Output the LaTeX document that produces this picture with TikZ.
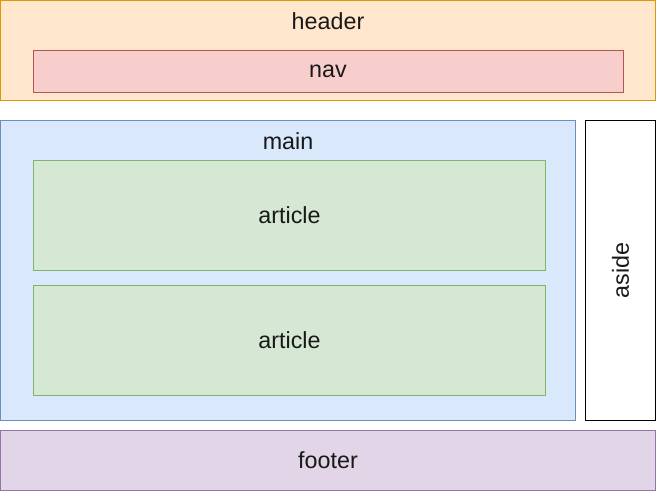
\documentclass[tikz,border=0pt]{standalone}
\usepackage{fontspec}
\setmainfont{Liberation Sans}
\definecolor{hdrfill}{HTML}{FFE6CC}
\definecolor{hdrline}{HTML}{D79B00}
\definecolor{navfill}{HTML}{F8CECC}
\definecolor{navline}{HTML}{B85450}
\definecolor{mainfill}{HTML}{DAE8FC}
\definecolor{mainline}{HTML}{6C8EBF}
\definecolor{artfill}{HTML}{D5E8D4}
\definecolor{artline}{HTML}{82B366}
\definecolor{ftfill}{HTML}{E1D5E7}
\definecolor{ftline}{HTML}{9673A6}
\tikzset{
  box/.style={line width=1pt},
  lbl/.style={inner sep=0pt, font=\fontsize{23.3}{27}\selectfont, text=black!90},
}
\begin{document}
\begin{tikzpicture}[x=1pt,y=-1pt]
\useasboundingbox (0,0) rectangle (656,491);
% header
\draw[box, fill=hdrfill, draw=hdrline] (0.5,0.5) rectangle (655.5,100.5);
\node[lbl] (header) at (328,21) {header};
% nav
\draw[box, fill=navfill, draw=navline] (33.5,50.5) rectangle (623.5,92.5);
\node[lbl] (nav) at (328,71.5) {nav};
% main
\draw[box, fill=mainfill, draw=mainline] (0.5,120.5) rectangle (575.5,420.5);
\node[lbl] (main) at (288,141) {main};
% articles
\draw[box, fill=artfill, draw=artline] (33.5,160.5) rectangle (545.5,270.5);
\node[lbl] (art1) at (289.5,215.5) {article};
\draw[box, fill=artfill, draw=artline] (33.5,285.5) rectangle (545.5,395.5);
\node[lbl] (art2) at (289.5,340.5) {article};
% aside
\draw[box, fill=white, draw=black] (585.5,120.5) rectangle (655.5,420.5);
\node[lbl, rotate=90] (aside) at (620.5,270.5) {aside};
% footer
\draw[box, fill=ftfill, draw=ftline] (0.5,430.5) rectangle (655.5,490.5);
\node[lbl] (footer) at (328,460.5) {footer};
\end{tikzpicture}
\end{document}
